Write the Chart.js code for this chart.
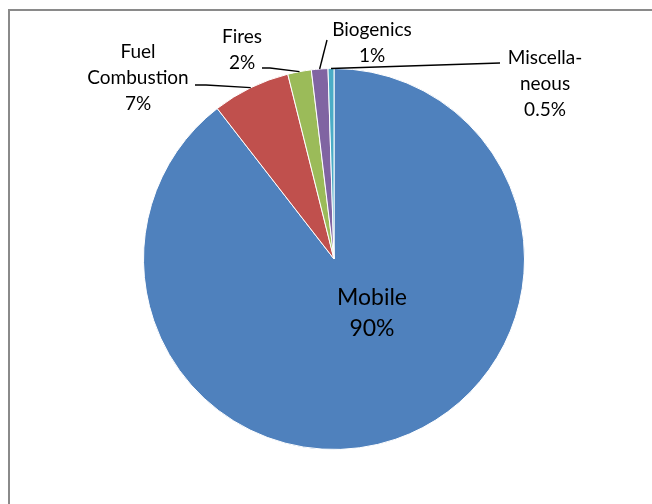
<!DOCTYPE html>
<html>
<head>
<meta charset="utf-8">
<script src="https://cdn.jsdelivr.net/npm/chart.js@4.4.1/dist/chart.umd.min.js"></script>
<style>
  html, body { margin: 0; padding: 0; background: #fff; }
  #wrap { position: relative; width: 652px; height: 504px; }
</style>
</head>
<body>
<div id="wrap"><canvas id="pieChart" width="652" height="504"></canvas></div>
<script>
const categories = ['Mobile', 'Fuel Combustion', 'Fires', 'Biogenics', 'Miscellaneous'];
const shares = [89.5, 6.6, 2.0, 1.4, 0.5];
const pctLabels = ['90%', '7%', '2%', '1%', '0.5%'];
const sliceColors = ['#4F81BD', '#C0504D', '#9BBB59', '#8064A2', '#4BACC6'];

// label text lines, where the text sits and where its leader line starts
const labelLines = [
  ['Mobile', '90%'],
  ['Fuel', 'Combustion', '7%'],
  ['Fires', '2%'],
  ['Biogenics', '1%'],
  ['Miscella-', 'neous', '0.5%']
];
const labelPos = [[372, 298], [138, 52], [242, 37], [372, 30], [545, 58]];
const leaderStart = [null, [[195, 85], [206, 85]], [[262, 68], [270, 68]], [[327, 40]], [[500, 63]]];

const FONT = '19px Lato, "Open Sans", sans-serif';

const framePlugin = {
  id: 'frame',
  beforeDraw(chart) {
    const ctx = chart.ctx;
    ctx.save();
    ctx.strokeStyle = '#8a8a8a';
    ctx.lineWidth = 2;
    ctx.beginPath();
    ctx.moveTo(9, 504);
    ctx.lineTo(9, 10);
    ctx.lineTo(652, 10);
    ctx.stroke();
    ctx.restore();
  }
};

const labelPlugin = {
  id: 'pieLabels',
  afterDraw(chart) {
    const ctx = chart.ctx;
    const arcs = chart.getDatasetMeta(0).data;
    ctx.save();
    arcs.forEach((arc, i) => {
      const lines = labelLines[i];
      const [lx, ly] = labelPos[i];
      const big = i === 0;
      ctx.font = big ? '23px Lato, "Open Sans", sans-serif' : FONT;
      ctx.fillStyle = '#000';
      ctx.textAlign = 'center';
      ctx.textBaseline = 'middle';
      const lh = big ? 31 : 26;
      lines.forEach((t, k) => ctx.fillText(t, lx, ly + k * lh));

      if (leaderStart[i]) {
        const mid = (arc.startAngle + arc.endAngle) / 2;
        const ex = arc.x + Math.cos(mid) * arc.outerRadius;
        const ey = arc.y + Math.sin(mid) * arc.outerRadius;
        ctx.strokeStyle = '#000';
        ctx.lineWidth = 1.4;
        ctx.beginPath();
        leaderStart[i].forEach((p, k) => k === 0 ? ctx.moveTo(p[0], p[1]) : ctx.lineTo(p[0], p[1]));
        ctx.lineTo(ex, ey);
        ctx.stroke();
      }
    });
    ctx.restore();
  }
};

new Chart(document.getElementById('pieChart').getContext('2d'), {
  type: 'pie',
  data: {
    labels: categories,
    datasets: [{
      data: shares,
      backgroundColor: sliceColors,
      borderColor: '#ffffff',
      borderWidth: 1,
      hoverOffset: 0
    }]
  },
  options: {
    responsive: false,
    animation: false,
    events: [],
    layout: { padding: { left: 143, right: 127, top: 68, bottom: 54 } },
    plugins: {
      legend: { display: false },
      tooltip: { enabled: false }
    }
  },
  plugins: [framePlugin, labelPlugin]
});
</script>
</body>
</html>
